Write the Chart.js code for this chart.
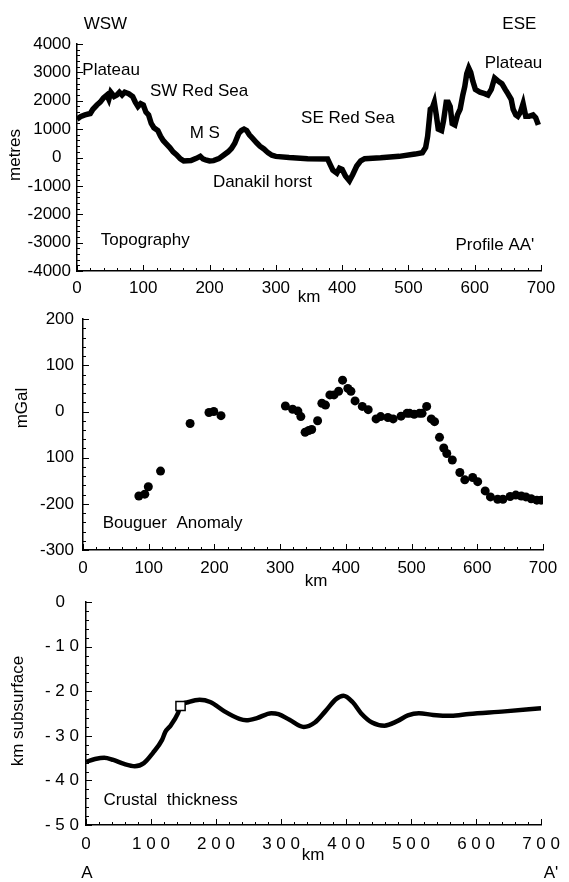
<!DOCTYPE html>
<html>
<head>
<meta charset="utf-8">
<title>Profile AA'</title>
<script src="https://cdn.jsdelivr.net/npm/chart.js@4.4.1/dist/chart.umd.min.js"></script>
<style>
  html, body { margin: 0; padding: 0; background: #fff; }
  body { width: 569px; height: 882px; position: relative; overflow: hidden; }
  .panel { position: absolute; left: 0; width: 569px; }
  #topo { top: 0; height: 302px; }
  #boug { top: 300px; height: 290px; }
  #crust { top: 585px; height: 297px; }
</style>
</head>
<body>
<div class="panel" id="topo"><canvas id="topoChart"></canvas></div>
<div class="panel" id="boug"><canvas id="bougChart"></canvas></div>
<div class="panel" id="crust"><canvas id="crustChart"></canvas></div>

<script>
// Profile AA' : topography, Bouguer anomaly and crustal thickness

// topography (km along profile, metres)
const topoKm = [0, 6, 12, 20, 24, 30, 35, 40, 45, 48, 51, 56, 60, 64, 68, 72, 78, 84, 88, 92,
  96, 100, 104, 108, 112, 116, 122, 126, 130, 134, 140, 145, 150, 156, 161, 172, 180, 186, 190, 194,
  200, 206, 214, 221, 228, 233, 238, 244, 248, 252, 256, 260, 264, 271, 276, 282, 288, 294, 300, 320,
  348, 378, 382, 386, 392, 396, 400, 405, 411, 416, 422, 428, 434, 458, 486, 510, 521, 526, 529, 533,
  536, 539, 542, 545, 550, 553, 557, 560, 563, 566, 570, 574, 578, 582, 585, 588, 591, 594, 597, 601,
  608, 615, 620, 625, 630, 635, 641, 646, 650, 655, 658, 662, 665, 669, 673, 677, 682, 688, 692, 696];
const topoM = [1350, 1450, 1500, 1550, 1700, 1850, 1950, 2100, 2200, 2050, 2300, 2150, 2200, 2300, 2200, 2300, 2250, 2150, 1950, 1800,
  1900, 1850, 1600, 1500, 1200, 1050, 950, 750, 600, 500, 350, 200, 100, -50, -120, -110, -30, 40, -50, -80,
  -120, -110, -40, 80, 200, 320, 500, 850, 950, 1000, 950, 800, 700, 520, 400, 300, 170, 80, 40, 0,
  -40, -50, -250, -450, -550, -380, -420, -650, -820, -600, -300, -120, -40, -10, 40, 120, 170, 350, 750, 1700,
  1750, 1950, 1500, 1000, 950, 1300, 1950, 1950, 1800, 1200, 1150, 1500, 1700, 2200, 2500, 2950, 3150, 3000, 2700, 2400,
  2300, 2250, 2200, 2400, 2800, 2700, 2600, 2400, 2250, 2050, 1700, 1500, 1450, 1600, 1900, 1450, 1450, 1500, 1400, 1150];

// Bouguer anomaly stations (km, mGal)
const bougKm = [85, 94, 99.4, 118, 163, 191.7, 199, 210, 308, 319, 327, 331.5, 338, 343.6, 348, 357,
  363.5, 369, 375.7, 382, 389, 395, 403, 407.7, 414, 425, 434, 446, 453, 464, 472, 484, 493, 497, 504,
  512, 516, 523, 530, 535, 542.5, 549, 553.6, 562, 573.5, 581, 593, 600.6, 612, 620, 631, 639, 650,
  658.6, 667, 674, 682, 690.6, 697];
const bougMgal = [-183, -179, -163, -129, -26, -2, 0, -9, 12, 5, 1, -11, -45, -41, -39, -20,
  18, 14, 36, 36, 44, 68, 50, 44, 23, 11, 4, -16, -11, -13, -16, -10, -4, -4, -6,
  -4, -4, 11, -16, -22, -56, -79, -91, -105, -132, -148, -143, -152, -172, -185, -190, -190, -184,
  -181, -183, -185, -189, -192, -192];

// crustal thickness (km along profile, km subsurface)
const crustKm = [0, 14, 28, 42, 58.6, 75, 89, 103, 117, 122, 130.6, 141.5, 145.4, 158, 174.7, 191,
  213, 236, 246.5, 263, 285, 296, 313, 335, 352, 368, 385, 396, 410, 423, 440, 459, 478.7, 495, 512,
  534, 561.6, 589, 644, 700];
const crustDepth = [-35.8, -35.2, -34.9, -35.4, -36.3, -36.8, -36.1, -33.8, -30.9, -29.1, -27.6, -24.9, -23.3, -22.4, -21.9, -22.4,
  -24.5, -26.2, -26.5, -26, -24.9, -25.1, -26.4, -28, -27, -24.5, -21.7, -21, -22.4, -24.9, -27, -27.7, -26.7, -25.4, -24.9,
  -25.3, -25.5, -25.1, -24.5, -23.8];
const markerKm = [145.4];
const markerDepth = [-23.3];

const FAMILY = '"Liberation Sans", Arial, Helvetica, sans-serif';
const FONT_SIZE = 17;

function pairs(xs, ys) {
    return xs.map((x, i) => ({ x: x, y: ys[i] }));
}

// inward major/minor ticks along both axes
function inwardTicks(xMajor, xMinor, yMajor, yMinor) {
    return {
        id: 'inwardTicks',
        afterDraw(chart) {
            const { ctx, chartArea: a, scales: { x, y } } = chart;
            ctx.save();
            ctx.strokeStyle = '#000';
            ctx.lineWidth = 1;
            ctx.beginPath();
            for (let v = x.min; v <= x.max + 1e-6; v += xMinor) {
                const px = Math.round(x.getPixelForValue(v)) + 0.5;
                const major = Math.abs(v / xMajor - Math.round(v / xMajor)) < 1e-6;
                ctx.moveTo(px, a.bottom);
                ctx.lineTo(px, a.bottom - (major ? 6 : 3));
            }
            for (let v = y.min; v <= y.max + 1e-6; v += yMinor) {
                const py = Math.round(y.getPixelForValue(v)) + 0.5;
                const major = Math.abs(v / yMajor - Math.round(v / yMajor)) < 1e-6;
                ctx.moveTo(a.left, py);
                ctx.lineTo(a.left + (major ? 6 : 3), py);
            }
            ctx.stroke();
            ctx.restore();
        }
    };
}

// free text: km/v are data values, px/py are canvas pixels
function notes(items) {
    return {
        id: 'notes',
        afterDraw(chart) {
            const { ctx, scales: { x, y } } = chart;
            ctx.save();
            ctx.fillStyle = '#000';
            ctx.font = FONT_SIZE + 'px ' + FAMILY;
            ctx.textBaseline = 'middle';
            items.forEach(n => {
                const px = n.px != null ? n.px : x.getPixelForValue(n.km);
                const py = n.py != null ? n.py : y.getPixelForValue(n.v);
                ctx.save();
                ctx.translate(px, py);
                if (n.rot) ctx.rotate(n.rot);
                ctx.textAlign = n.align || 'left';
                ctx.fillText(n.t, 0, 0);
                ctx.restore();
            });
            ctx.restore();
        }
    };
}

function spaced(s) {
    return String(s).split('').join(' ');
}

// build options so that the plot area sits at fixed pixels inside the canvas
function panelOptions(box, yMin, yMax, yStep, xFmt, yFmt) {
    return {
        responsive: true,
        maintainAspectRatio: false,
        animation: false,
        layout: { padding: { left: 0, top: box.top, right: box.right, bottom: 0 } },
        plugins: { legend: { display: false }, tooltip: { enabled: false } },
        scales: {
            x: {
                type: 'linear',
                min: 0, max: 700,
                grid: { display: false, drawTicks: false },
                border: { display: true, color: '#000', width: 1.5 },
                ticks: {
                    stepSize: 100, padding: box.xPad, color: '#000', maxRotation: 0,
                    font: { family: FAMILY, size: FONT_SIZE },
                    callback: xFmt
                },
                afterFit: s => { s.height = box.xHeight; }
            },
            y: {
                type: 'linear',
                min: yMin, max: yMax,
                grid: { display: false, drawTicks: false },
                border: { display: true, color: '#000', width: 1.5 },
                ticks: {
                    stepSize: yStep, padding: box.yPad, color: '#000',
                    font: { family: FAMILY, size: FONT_SIZE },
                    callback: yFmt
                },
                afterFit: s => { s.width = box.left; }
            }
        }
    };
}

// Topography
new Chart(document.getElementById('topoChart'), {
    type: 'line',
    data: {
        datasets: [{
            data: pairs(topoKm, topoM),
            borderColor: '#000',
            borderWidth: 5.5,
            pointRadius: 0,
            tension: 0,
            fill: false
        }]
    },
    options: panelOptions(
        { top: 44, right: 28, left: 77, xHeight: 31, xPad: 7, yPad: 6 },
        -4000, 4000, 1000,
        v => String(v),
        v => v === 0 ? '0  ' : String(v)
    ),
    plugins: [
        inwardTicks(100, 20, 1000, 200),
        notes([
            { t: 'WSW', km: 10, v: 4700 },
            { t: 'ESE', km: 693, v: 4700, align: 'right' },
            { t: 'Plateau', km: 8, v: 3070 },
            { t: 'SW Red Sea', km: 110, v: 2350 },
            { t: 'M S', km: 170, v: 860 },
            { t: 'SE Red Sea', km: 338, v: 1380 },
            { t: 'Plateau', km: 615, v: 3330 },
            { t: 'Danakil horst', km: 205, v: -890 },
            { t: 'Topography', km: 36, v: -2916 },
            { t: "Profile AA'", km: 571, v: -3112 },
            { t: 'metres', px: 15, py: 155, rot: -Math.PI / 2, align: 'center' },
            { t: 'km', px: 309, py: 297, align: 'center' }
        ])
    ]
});

// Bouguer anomaly
new Chart(document.getElementById('bougChart'), {
    type: 'scatter',
    data: {
        datasets: [{
            data: pairs(bougKm, bougMgal),
            backgroundColor: '#000',
            borderColor: '#000',
            pointRadius: 4.5,
            pointBorderWidth: 0
        }]
    },
    options: panelOptions(
        { top: 18, right: 26, left: 83, xHeight: 40, xPad: 8, yPad: 9 },
        -300, 200, 100,
        v => String(v),
        v => v === 0 ? '0  ' : (v === -100 ? '100' : String(v))
    ),
    plugins: [
        inwardTicks(100, 20, 100, 20),
        notes([
            { t: 'Bouguer  Anomaly', km: 30, v: -243 },
            { t: 'mGal', px: 22, py: 108, rot: -Math.PI / 2, align: 'center' },
            { t: 'km', px: 316, py: 281, align: 'center' }
        ])
    ]
});

// Crustal thickness
new Chart(document.getElementById('crustChart'), {
    type: 'line',
    data: {
        datasets: [{
            data: pairs(markerKm, markerDepth),
            showLine: false,
            pointStyle: 'rect',
            pointRadius: 6.5,
            pointBackgroundColor: '#fff',
            pointBorderColor: '#000',
            pointBorderWidth: 1.5
        }, {
            data: pairs(crustKm, crustDepth),
            borderColor: '#000',
            borderWidth: 4.5,
            pointRadius: 0,
            cubicInterpolationMode: 'monotone',
            fill: false
        }]
    },
    options: panelOptions(
        { top: 12, right: 25, left: 86, xHeight: 57, xPad: 9, yPad: 7 },
        -50, 0, 10,
        v => spaced(v),
        v => v === 0 ? '0   ' : spaced(v)
    ),
    plugins: [
        inwardTicks(100, 20, 10, 2),
        notes([
            { t: 'Crustal  thickness', km: 27, v: -44.5 },
            { t: 'km subsurface', px: 18, py: 126, rot: -Math.PI / 2, align: 'center' },
            { t: 'km', px: 313, py: 270, align: 'center' },
            { t: 'A', px: 87, py: 288, align: 'center' },
            { t: "A'", px: 551, py: 288, align: 'center' }
        ])
    ]
});
</script>
</body>
</html>
